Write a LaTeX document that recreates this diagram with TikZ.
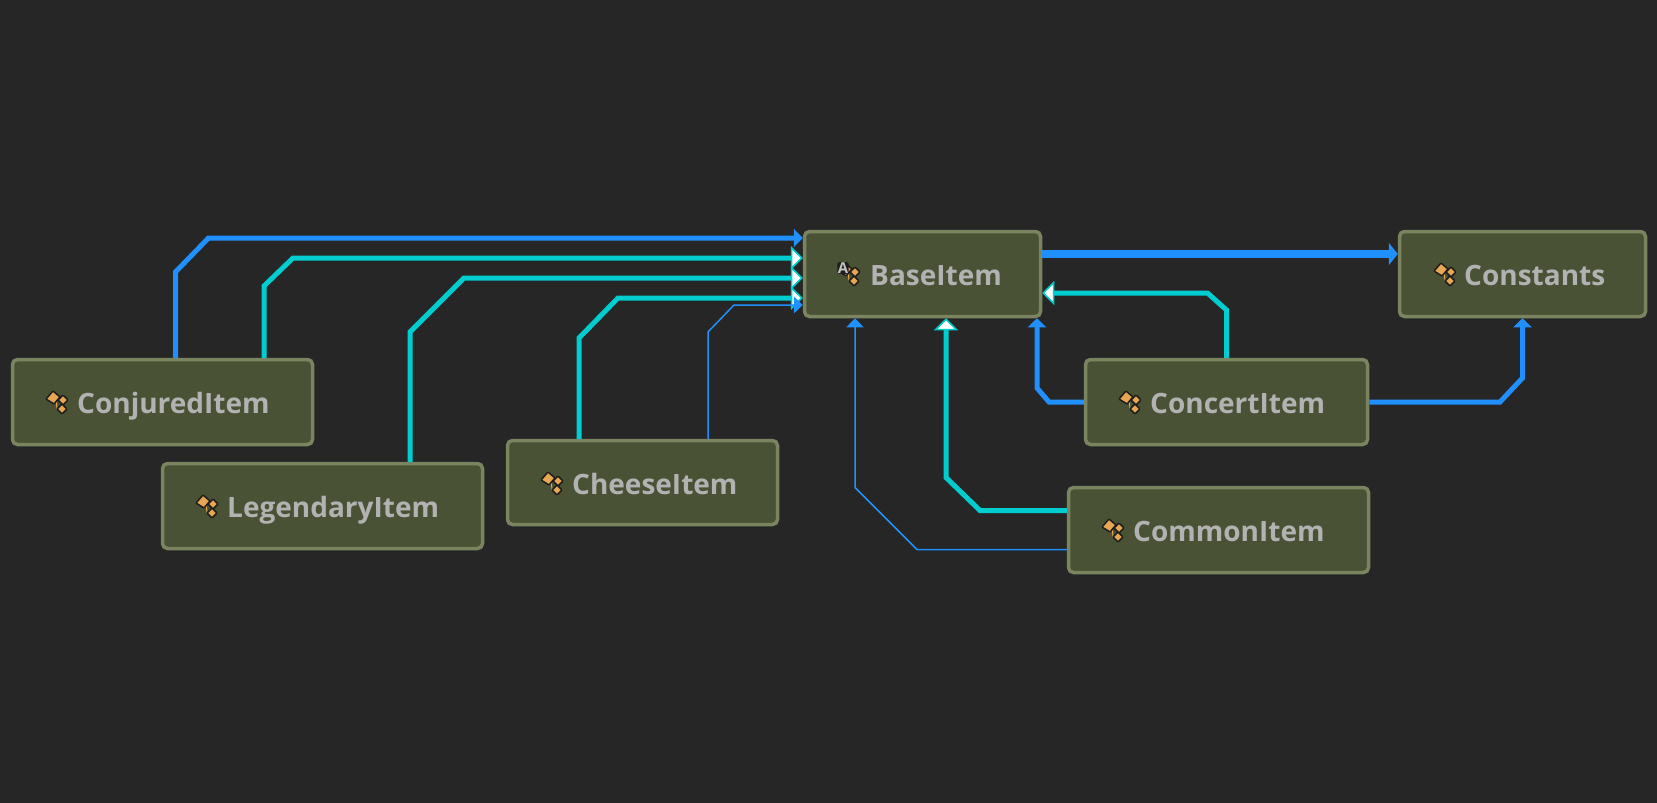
\documentclass[tikz,border=0pt]{standalone}
\usepackage{fontspec}
\setmainfont{Open Sans}
\usetikzlibrary{arrows.meta}
\definecolor{canvasbg}{HTML}{262626}
\definecolor{boxfill}{HTML}{4A5236}
\definecolor{boxline}{HTML}{7A8560}
\definecolor{labelgray}{HTML}{B2B2B2}
\definecolor{depblue}{HTML}{2090FF}
\definecolor{inhteal}{HTML}{00CDD0}
\definecolor{iconorange}{HTML}{E8A552}
\definecolor{iconedge}{HTML}{1E1E1E}
\definecolor{icongray}{HTML}{C4C4C4}

\begin{document}
\begin{tikzpicture}[x=1pt,y=-1pt,
box/.style={draw=boxline,fill=boxfill,line width=3.5pt,rounded corners=5pt,anchor=north west,inner sep=0pt},
label/.style={font=\fontsize{28}{32}\selectfont\bfseries,text=labelgray,anchor=base west,inner sep=0pt},
dep/.style={draw=depblue,line width=5pt,-{Triangle[length=9pt,width=18pt]}},
depthick/.style={draw=depblue,line width=8pt,-{Triangle[length=9pt,width=22pt]}},
depthin/.style={draw=depblue,line width=1.5pt,-{Triangle[length=9pt,width=17pt]}},
inh/.style={draw=inhteal,line width=5pt,-{Triangle[fill=white,line width=1.5pt,length=12pt,width=24pt]}},
lobe/.style={fill=iconorange,draw=iconedge,line width=1.5pt,rounded corners=0.8pt},
classicon/.pic={
\draw[iconorange,line width=1pt] (-1,-2) -- (0,6) -- (4,6);
\draw[lobe] (-4,-11) -- (-11,-3) -- (-3,2) -- (3,-5) -- cycle;
\draw[lobe] (6,-7) -- (11,-2) -- (6,3) -- (1,-2) -- cycle;
\draw[lobe,pic actions] (5,2) -- (10,7) -- (5,12) -- (0,7) -- cycle;
}]
\fill[canvasbg] (0,0) rectangle (1657,803);
\useasboundingbox (0,0) rectangle (1657,803);

\node[box,minimum width=300pt,minimum height=85pt] (conjured) at (10.75,357.75) {};
\node[box,minimum width=320pt,minimum height=85pt] (legendary) at (160.75,461.75) {};
\node[box,minimum width=270pt,minimum height=84pt] (cheese) at (505.75,438.75) {};
\node[box,minimum width=236pt,minimum height=85pt] (base) at (802.75,229.75) {};
\node[box,minimum width=246pt,minimum height=85pt] (constants) at (1397.75,229.75) {};
\node[box,minimum width=282pt,minimum height=85pt] (concert) at (1083.75,357.75) {};
\node[box,minimum width=300pt,minimum height=85pt] (common) at (1066.75,485.75) {};

\node[label] (conjuredlabel) at (77,413) {ConjuredItem};
\node[label] (legendarylabel) at (227,517) {LegendaryItem};
\node[label] (cheeselabel) at (572,494) {CheeseItem};
\node[label] (baselabel) at (870,285) {BaseItem};
\node[label] (constantslabel) at (1464,285) {Constants};
\node[label] (concertlabel) at (1150,413) {ConcertItem};
\node[label] (commonlabel) at (1133,541) {CommonItem};

\foreach \x/\y in {57/402,207/506,552/483,849/274,1130/402,1113/530} {\pic at (\x,\y) {classicon};}
\pic[fill=icongray] at (1445,274) {classicon};
\node[font=\fontsize{15}{15}\selectfont\bfseries,text=icongray,fill=iconedge,rounded corners=2pt,inner sep=0.5pt] (basemark) at (843,268) {A};

\draw[dep] ([xshift=13pt]conjured.north) -- ++(0,-85.75) -- ++(33,-34) -- ([yshift=36pt]base.west);
\draw[inh] ([xshift=101.5pt]conjured.north) -- ++(0,-71.75) -- ++(29,-28) -- ([yshift=16pt]base.west);
\draw[inh] ([xshift=87.5pt]legendary.north) -- ++(0,-129.75) -- ++(54,-54) -- ([yshift=-4pt]base.west);
\draw[inh] ([xshift=-63.5pt]cheese.north) -- ++(0,-100.75) -- ++(39,-40) -- ([yshift=-24pt]base.west);
\draw[depthin] ([xshift=65.5pt]cheese.north) -- ++(0,-106.75) -- ++(26,-27) -- ([yshift=-31pt]base.west);
\draw[depthick] ([yshift=20pt]base.east) -- ([yshift=20pt]constants.west);
\draw[inh] (concert.north) -- ++(0,-47.75) -- ++(-19,-17) -- ([yshift=-19pt]base.east);
\draw[dep] (concert.west) -- ++(-34.75,0) -- ++(-12,-14) -- ([xshift=-5.25pt]base.south east);
\draw[dep] (concert.east) -- ++(130.75,0) -- ++(22.5,-24) -- (constants.south);
\draw[inh] ([yshift=19.5pt]common.west) -- ++(-86.75,0) -- ++(-34,-33) -- ([xshift=23.5pt]base.south);
\draw[depthin] ([yshift=-19.5pt]common.west) -- ++(-149.75,0) -- ++(-62,-62) -- ([xshift=-67.5pt]base.south);
\end{tikzpicture}
\end{document}
